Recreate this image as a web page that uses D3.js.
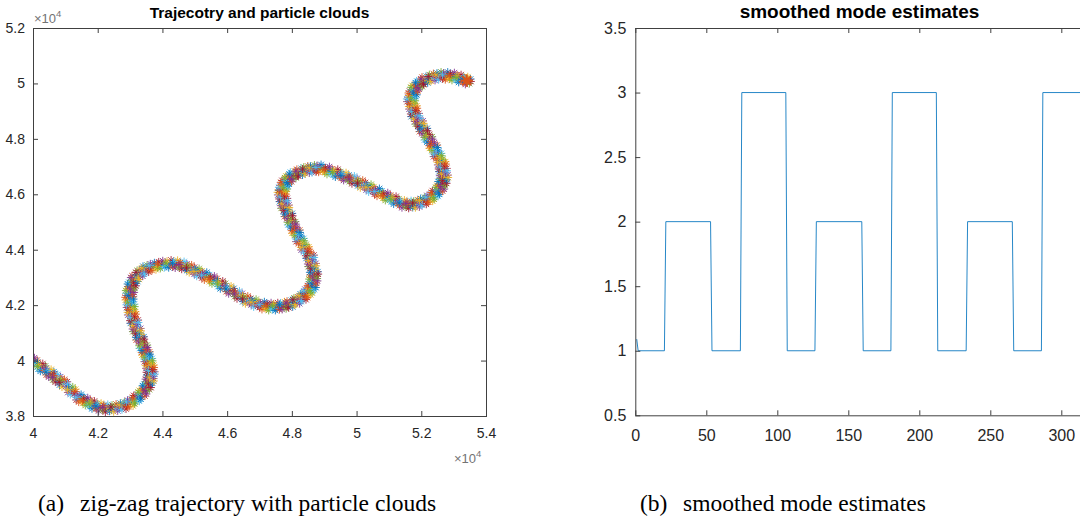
<!DOCTYPE html>
<html>
<head>
<meta charset="utf-8">
<script src="https://cdn.jsdelivr.net/npm/d3@7"></script>
<style>
  html, body { margin: 0; padding: 0; background: #fff; }
  svg { display: block; }
  .ax text { font-family: "Liberation Sans", Arial, Helvetica, sans-serif; fill: #262626; }
  .ttl { font-family: "Liberation Sans", Arial, Helvetica, sans-serif; font-weight: bold; fill: #000; }
  .cap { font-family: "Liberation Serif", "Times New Roman", serif; fill: #000; }
</style>
</head>
<body>
<svg id="fig" width="1080" height="527"></svg>
<script>
// ---- (a) trajectory waypoints, metres ----
const trackX = [40009, 40267, 40525, 40730, 40936, 41194, 41452, 41657, 41863, 42070,
                42277, 42533, 42790, 43010, 43204, 43375, 43513, 43605, 43637, 43610,
                43563, 43485, 43408, 43306, 43204, 43127, 43050, 43013, 42976, 42995,
                43050, 43150, 43306, 43490, 43717, 43975, 44233, 44434, 44635, 44867,
                45099, 45335, 45571, 45829, 46087, 46345, 46603, 46860, 47116, 47323,
                47530, 47740, 47941, 48155, 48352, 48495, 48612, 48660, 48683, 48621,
                48559, 48405, 48250, 48122, 47994, 47890, 47787, 47736, 47685, 47725,
                47787, 47905, 48043, 48245, 48457, 48663, 48868, 49126, 49384, 49640,
                49897, 50155, 50413, 50671, 50929, 51186, 51443, 51650, 51857, 52070,
                52267, 52435, 52576, 52650, 52700, 52665, 52629, 52500, 52370, 52216,
                52061, 51933, 51804, 51742, 51680, 51730, 51804, 51945, 52113, 52340,
                52576, 52782, 52988, 53195, 53402];
const trackY = [39960, 39750, 39541, 39360, 39180, 38910, 38639, 38518, 38397, 38320,
                38278, 38290, 38361, 38470, 38639, 38825, 39057, 39295, 39541, 39781,
                40021, 40261, 40501, 40803, 41104, 41405, 41706, 41977, 42248, 42490,
                42728, 42960, 43150, 43300, 43388, 43460, 43486, 43475, 43432, 43310,
                43179, 43044, 42908, 42728, 42547, 42367, 42186, 42070, 41981, 41945,
                41945, 41980, 42042, 42160, 42305, 42475, 42666, 42905, 43150, 43450,
                43749, 44050, 44352, 44654, 44955, 45255, 45554, 45796, 46037, 46220,
                46398, 46560, 46698, 46800, 46878, 46915, 46932, 46855, 46759, 46638,
                46517, 46368, 46218, 46067, 45915, 45783, 45651, 45630, 45651, 45745,
                45857, 46030, 46218, 46425, 46636, 46878, 47120, 47420, 47719, 48020,
                48322, 48592, 48863, 49134, 49404, 49620, 49827, 49990, 50126, 50215,
                50271, 50270, 50246, 50174, 50101];
// particle cloud spread around each waypoint, metres
const cloudDX = [0, 120, -115, 35, -40, 85, -90, 130, -125];
const cloudDY = [0, 55, -60, 140, -135, -105, 100, -30, 35];
const trajXTicks = [40000, 42000, 44000, 46000, 48000, 50000, 52000, 54000];
const trajXLabels = ["4", "4.2", "4.4", "4.6", "4.8", "5", "5.2", "5.4"];
const trajYTicks = [38000, 40000, 42000, 44000, 46000, 48000, 50000, 52000];
const trajYLabels = ["3.8", "4", "4.2", "4.4", "4.6", "4.8", "5", "5.2"];
const cloudColors = ["#0072BD", "#D95319", "#EDB120", "#7E2F8E", "#77AC30", "#4DBEEE", "#A2142F"];

// ---- (b) smoothed mode estimate, vertices of the step trace ----
const modeT = [1, 2, 20.5, 21.5, 53, 54, 74, 75, 106, 107, 126.5, 127.5,
               159.5, 160.5, 180, 181, 212, 213, 233, 234, 265.5, 266.5, 286, 287, 320];
const modeV = [1.09, 1, 1, 2, 2, 1, 1, 3, 3, 1, 1, 2,
               2, 1, 1, 3, 3, 1, 1, 2, 2, 1, 1, 3, 3];
const modeXTicks = [0, 50, 100, 150, 200, 250, 300];
const modeXLabels = ["0", "50", "100", "150", "200", "250", "300"];
const modeYTicks = [0.5, 1, 1.5, 2, 2.5, 3, 3.5];
const modeYLabels = ["0.5", "1", "1.5", "2", "2.5", "3", "3.5"];

const svg = d3.select("#fig");
const AXIS = "#404040";

// eight-spoke asterisk marker
const asterisk = {
  draw(ctx, size) {
    const r = Math.sqrt(size) / 2, d = r * Math.SQRT1_2;
    ctx.moveTo(-r, 0); ctx.lineTo(r, 0);
    ctx.moveTo(0, -r); ctx.lineTo(0, r);
    ctx.moveTo(-d, -d); ctx.lineTo(d, d);
    ctx.moveTo(-d, d); ctx.lineTo(d, -d);
  }
};

function framedAxes(g, x, y, opt) {
  const [x0, x1] = x.range(), [y0, y1] = y.range();
  const bottom = d3.axisBottom(x).tickValues(opt.xt).tickFormat((d, i) => opt.xl[i])
    .tickSizeInner(-5).tickSizeOuter(0).tickPadding(opt.xpad);
  const left = d3.axisLeft(y).tickValues(opt.yt).tickFormat((d, i) => opt.yl[i])
    .tickSizeInner(-5).tickSizeOuter(0).tickPadding(opt.ypad);
  const top = d3.axisTop(x).tickValues(opt.xt).tickFormat("").tickSizeInner(-5).tickSizeOuter(0);
  const right = d3.axisRight(y).tickValues(opt.yt).tickFormat("").tickSizeInner(-5).tickSizeOuter(0);

  const gb = g.append("g").attr("class", "ax").attr("transform", `translate(0,${y0})`).call(bottom);
  const gl = g.append("g").attr("class", "ax").attr("transform", `translate(${x0},0)`).call(left);
  const gt = g.append("g").attr("class", "ax").attr("transform", `translate(0,${y1})`).call(top);
  const gr = g.append("g").attr("class", "ax").attr("transform", `translate(${x1},0)`).call(right);
  [gb, gl, gt, gr].forEach(a => {
    a.select(".domain").remove();
    a.selectAll(".tick line").attr("stroke", AXIS);
  });
  gb.selectAll("text").attr("font-size", opt.fs).attr("fill", "#262626");
  gl.selectAll("text").attr("font-size", opt.fs).attr("fill", "#262626");
  g.append("rect")
    .attr("x", x0 + 0.5).attr("y", y1 + 0.5)
    .attr("width", x1 - x0).attr("height", y0 - y1)
    .attr("fill", "none").attr("stroke", AXIS).attr("stroke-width", 1);
}

// ================= (a) trajectory and particle clouds =================
const xa = d3.scaleLinear().domain([40000, 54000]).range([33, 486]);
const ya = d3.scaleLinear().domain([38000, 52000]).range([416, 28]);
const ga = svg.append("g");

const particles = [];
trackX.forEach((tx, i) => {
  cloudDX.forEach((dx, k) => {
    particles.push({ x: tx + dx, y: trackY[i] + cloudDY[k], c: cloudColors[(i * 3 + k) % cloudColors.length] });
  });
});
svg.append("clipPath").attr("id", "clipA").append("rect")
  .attr("x", 33).attr("y", 28).attr("width", 453).attr("height", 388);
ga.append("g").attr("clip-path", "url(#clipA)")
  .selectAll("path").data(particles).join("path")
  .attr("transform", d => `translate(${xa(d.x)},${ya(d.y)})`)
  .attr("d", d3.symbol(asterisk, 64))
  .attr("fill", "none").attr("stroke", d => d.c).attr("stroke-width", 1).attr("stroke-opacity", 0.85);
// final position
ga.append("path")
  .attr("transform", `translate(${xa(trackX[trackX.length - 1])},${ya(trackY[trackY.length - 1])})`)
  .attr("d", d3.symbol(asterisk, 150))
  .attr("fill", "none").attr("stroke", "#D95319").attr("stroke-width", 2.2);

framedAxes(ga, xa, ya, { xt: trajXTicks, xl: trajXLabels, yt: trajYTicks, yl: trajYLabels, fs: 14, xpad: 12, ypad: 8 });

ga.append("text").attr("class", "ttl").attr("x", 259.5).attr("y", 17.5)
  .attr("text-anchor", "middle").attr("font-size", 15.5).text("Trajecotry and particle clouds");

// exponent markers for both axes
const expo = (x, y) => {
  const t = ga.append("text").attr("class", "ax").attr("x", x).attr("y", y)
    .attr("font-family", "Liberation Sans, Arial, sans-serif").attr("font-size", 13).attr("fill", "#737373");
  t.append("tspan").text("\u00d710");
  t.append("tspan").attr("dy", -6).attr("font-size", 9.5).text("4");
};
expo(34, 23);
expo(454, 463);

// ================= (b) smoothed mode estimates =================
const xb = d3.scaleLinear().domain([0, 320]).range([635.3, 635.3 + 320 * 1.42]);
const yb = d3.scaleLinear().domain([0.5, 3.5]).range([415.3, 28]);
const gb = svg.append("g");

const modePts = modeT.map((t, i) => [t, modeV[i]]);
gb.append("path").datum(modePts)
  .attr("d", d3.line().x(d => xb(d[0])).y(d => yb(d[1])))
  .attr("fill", "none").attr("stroke", "#0072BD").attr("stroke-width", 1).attr("stroke-opacity", 0.85);

framedAxes(gb, xb, yb, { xt: modeXTicks, xl: modeXLabels, yt: modeYTicks, yl: modeYLabels, fs: 16, xpad: 14, ypad: 9 });

gb.append("text").attr("class", "ttl").attr("x", 859.5).attr("y", 17.5)
  .attr("text-anchor", "middle").attr("font-size", 19).text("smoothed mode estimates");

// ================= captions =================
const caption = (x1, x2, tag, body) => {
  svg.append("text").attr("class", "cap").attr("x", x1).attr("y", 511).attr("font-size", 23.5).text(tag);
  svg.append("text").attr("class", "cap").attr("x", x2).attr("y", 511).attr("font-size", 23.5).text(body);
};
caption(38, 80, "(a)", "zig-zag trajectory with particle clouds");
caption(640, 683, "(b)", "smoothed mode estimates");
</script>
</body>
</html>
